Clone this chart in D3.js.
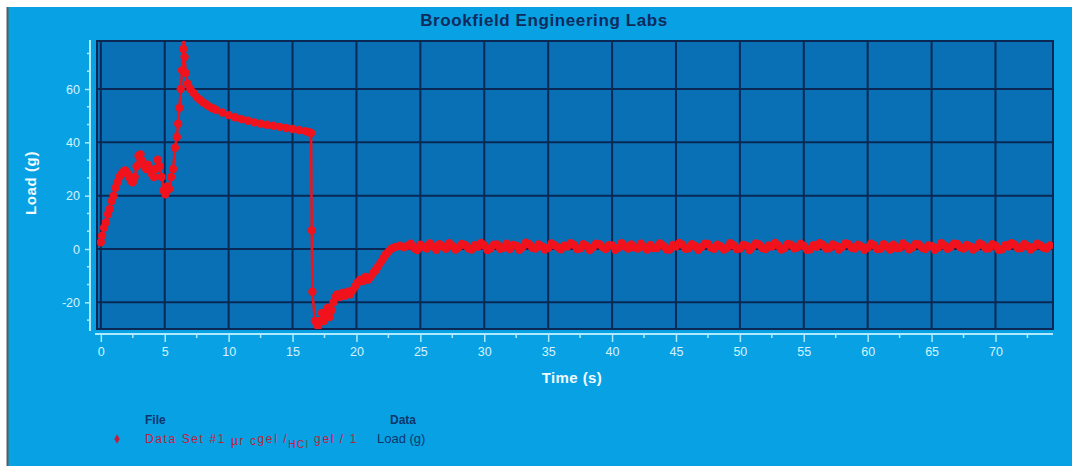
<!DOCTYPE html>
<html>
<head>
<meta charset="utf-8">
<script src="https://cdn.jsdelivr.net/npm/d3@7"></script>
<style>
  html, body { margin: 0; padding: 0; background: #ffffff; }
  svg { display: block; }
</style>
</head>
<body>
<svg id="chart" width="1072" height="466"></svg>
<script>
// ---- Data: load (g) against time (s) ----
// Transient part: loading, peak, relaxation, release and recovery.
const transientTimeS = [
  0.0, 0.1, 0.25, 0.4, 0.55, 0.7, 0.85, 1.0, 1.15, 1.3,
  1.45, 1.6, 1.75, 1.9, 2.05, 2.2, 2.35, 2.5, 2.65, 2.8,
  2.95, 3.1, 3.25, 3.4, 3.55, 3.7, 3.85, 4.0, 4.15, 4.3,
  4.45, 4.6, 4.75, 4.9, 5.05, 5.2, 5.35, 5.5, 5.65, 5.8,
  5.95, 6.05, 6.15, 6.25, 6.35, 6.45, 6.5, 6.55, 6.65, 6.8,
  7.0, 7.25, 7.5, 7.75, 8.0, 8.25, 8.5, 8.75, 9.0, 9.5,
  10.0, 10.5, 11.0, 11.5, 12.0, 12.5, 13.0, 13.5, 14.0, 14.5,
  15.0, 15.5, 16.0, 16.3, 16.45, 16.5, 16.55, 16.75, 17.0, 17.15,
  17.3, 17.45, 17.6, 17.75, 17.9, 18.05, 18.2, 18.35, 18.5, 18.7,
  18.9, 19.1, 19.3, 19.5, 19.7, 19.9, 20.1, 20.3, 20.5, 20.7,
  20.9, 21.1, 21.3, 21.5, 21.7, 21.9, 22.1, 22.3, 22.5, 22.7,
  22.9, 23.1, 23.4, 23.7
];
const transientLoadG = [
  2.5, 5, 8, 10, 13, 15, 18, 20, 23, 25,
  27, 28, 29, 29.5, 28.5, 27, 25.5, 25, 27, 31,
  35, 35.5, 33, 31, 30, 31.5, 30, 28, 27, 30,
  33.5, 31, 27, 22, 20.5, 23.5, 22.5, 27, 30, 38,
  42, 47, 53, 60, 67, 75, 82, 72, 66, 62,
  60, 58.5, 57, 56, 55, 54.2, 53.4, 52.8, 52.2, 51.2,
  50.2, 49.4, 48.7, 48.1, 47.5, 47.0, 46.6, 46.2, 45.8, 45.4,
  45.0, 44.6, 44.2, 43.8, 43.5, 7, -16, -27, -29, -27,
  -24, -27, -25, -22, -25.5, -23, -20, -18, -17, -18,
  -16.5, -17.5, -16, -17, -15.5, -14, -12.5, -11.5, -12, -10.5,
  -11.5, -10.5, -9, -8, -6.5, -5, -3.5, -2, -1, 0,
  0.5, 0.8, 1.2, 0.6
];

// Settled part: load fluctuating around zero.
const settledTimeS = [
  24.0, 24.25, 24.5, 24.75, 25.0, 25.25, 25.5, 25.75, 26.0, 26.25, 26.5, 26.75,
  27.0, 27.25, 27.5, 27.75, 28.0, 28.25, 28.5, 28.75, 29.0, 29.25, 29.5, 29.75,
  30.0, 30.25, 30.5, 30.75, 31.0, 31.25, 31.5, 31.75, 32.0, 32.25, 32.5, 32.75,
  33.0, 33.25, 33.5, 33.75, 34.0, 34.25, 34.5, 34.75, 35.0, 35.25, 35.5, 35.75,
  36.0, 36.25, 36.5, 36.75, 37.0, 37.25, 37.5, 37.75, 38.0, 38.25, 38.5, 38.75,
  39.0, 39.25, 39.5, 39.75, 40.0, 40.25, 40.5, 40.75, 41.0, 41.25, 41.5, 41.75,
  42.0, 42.25, 42.5, 42.75, 43.0, 43.25, 43.5, 43.75, 44.0, 44.25, 44.5, 44.75,
  45.0, 45.25, 45.5, 45.75, 46.0, 46.25, 46.5, 46.75, 47.0, 47.25, 47.5, 47.75,
  48.0, 48.25, 48.5, 48.75, 49.0, 49.25, 49.5, 49.75, 50.0, 50.25, 50.5, 50.75,
  51.0, 51.25, 51.5, 51.75, 52.0, 52.25, 52.5, 52.75, 53.0, 53.25, 53.5, 53.75,
  54.0, 54.25, 54.5, 54.75, 55.0, 55.25, 55.5, 55.75, 56.0, 56.25, 56.5, 56.75,
  57.0, 57.25, 57.5, 57.75, 58.0, 58.25, 58.5, 58.75, 59.0, 59.25, 59.5, 59.75,
  60.0, 60.25, 60.5, 60.75, 61.0, 61.25, 61.5, 61.75, 62.0, 62.25, 62.5, 62.75,
  63.0, 63.25, 63.5, 63.75, 64.0, 64.25, 64.5, 64.75, 65.0, 65.25, 65.5, 65.75,
  66.0, 66.25, 66.5, 66.75, 67.0, 67.25, 67.5, 67.75, 68.0, 68.25, 68.5, 68.75,
  69.0, 69.25, 69.5, 69.75, 70.0, 70.25, 70.5, 70.75, 71.0, 71.25, 71.5, 71.75,
  72.0, 72.25, 72.5, 72.75, 73.0, 73.25, 73.5, 73.75, 74.0, 74.25
];
const settledLoadG = [
  1.2, 2.0, 0.4, -0.4, 1.6, 0.8, 0.2, 2.1, 0.9, -0.3, 1.8, 1.0,
  0.1, 2.2, 1.1, -0.2, 0.6, 1.9, 1.5, 0.3, -0.2, 1.4, 0.8, 2.3,
  1.3, -0.4, 0.3, 1.6, 1.7, 0.1, 0.5, 2.0, 0.0, 1.5, 1.2, -0.3,
  0.7, 2.4, 1.9, 0.5, 0.2, 1.7, 1.0, -0.2, 0.4, 2.1, 1.4, 0.6,
  -0.1, 1.2, 0.9, 2.2, 1.6, 0.0, 0.3, 1.8, 1.1, -0.4, 0.6, 2.0,
  1.8, 0.7, 0.0, 1.4, 1.3, -0.3, 0.5, 2.2, 1.0, 0.2, 1.7, 0.6,
  0.2, 2.0, 0.8, -0.2, 1.5, 0.4, 0.4, 2.1, 1.2, -0.1, -0.2, 1.5,
  0.9, 2.3, 1.6, 0.1, 0.3, 1.8, 1.1, -0.3, 0.7, 2.0, 1.9, 0.5,
  0.1, 1.6, 1.0, -0.2, 0.5, 2.2, 1.4, 0.0, 0.2, 1.5, 1.2, -0.4,
  0.8, 2.1, 1.7, 0.4, 0.0, 1.3, 0.9, 2.3, 1.3, -0.2, 0.4, 1.9,
  1.6, 0.3, 0.6, 2.0, 1.1, -0.3, -0.1, 1.4, 0.8, 2.2, 1.5, 0.2,
  0.3, 1.7, 1.2, -0.2, 0.7, 2.1, 1.8, 0.5, 0.2, 1.6, 1.0, -0.3,
  0.5, 2.0, 1.4, 0.0, 0.1, 1.8, 0.9, -0.2, 1.6, 0.4, 0.4, 2.1,
  1.2, -0.1, 0.6, 1.9, 1.7, 0.5, 0.0, 1.3, 1.1, -0.3, 0.5, 2.2,
  1.3, 0.1, 0.8, 2.0, 1.9, 0.6, 0.2, 1.5, 1.0, -0.2, 0.6, 2.1,
  1.5, 0.2, 0.3, 1.8, 1.2, -0.3, -0.1, 1.4, 0.9, 2.2, 1.6, 0.3,
  0.4, 1.9, 1.1, -0.2, 0.7, 2.0, 1.4, 0.5, 0.2, 1.3
];

const xTicks = [0, 5, 10, 15, 20, 25, 30, 35, 40, 45, 50, 55, 60, 65, 70];
const xMinorTicks = [2.5, 7.5, 12.5, 17.5, 22.5, 27.5, 32.5, 37.5, 42.5, 47.5, 52.5, 57.5, 62.5, 67.5, 72.5];
const yTicks = [-20, 0, 20, 40, 60];
const yMinorTicks = [-26.67, -13.33, -6.67, 6.67, 13.33, 26.67, 33.33, 46.67, 53.33, 66.67, 73.33];

const titleText = "Brookfield Engineering Labs";
const xTitle = "Time (s)";
const yTitle = "Load (g)";
const legendFileHeader = "File";
const legendDataHeader = "Data";
const legendDataName = "Load (g)";

// ---- Layout ----
const W = 1072, H = 466;
const plot = { left: 97, right: 1053, top: 41, bottom: 329 };

const colors = {
  frame: "#08a2e4",
  plotBg: "#0a70b5",
  grid: "#0a2856",
  axis: "#aeeaff",
  tickText: "#d4f3ff",
  title: "#0e2b5c",
  axisTitle: "#f2fbff",
  series: "#f0121c",
  legendRed: "#c41c3c",
  legendDark: "#10356a"
};

const svg = d3.select("#chart");

// page and outer panel
svg.append("rect").attr("x", 0).attr("y", 0).attr("width", W).attr("height", H).attr("fill", "#ffffff");
svg.append("rect").attr("x", 8).attr("y", 7).attr("width", W - 8).attr("height", H - 7).attr("fill", colors.frame);
svg.append("line").attr("x1", 7.5).attr("x2", 7.5).attr("y1", 7).attr("y2", H)
  .attr("stroke", "#5c5c5c").attr("stroke-width", 2);

const x = d3.scaleLinear().domain([-0.3, 74.5]).range([plot.left, plot.right]);
const y = d3.scaleLinear().domain([-30, 78]).range([plot.bottom, plot.top]);

// plot background
svg.append("rect")
  .attr("x", plot.left).attr("y", plot.top)
  .attr("width", plot.right - plot.left).attr("height", plot.bottom - plot.top)
  .attr("fill", colors.plotBg);

// grid
const grid = svg.append("g").attr("stroke", colors.grid).attr("stroke-width", 2);
grid.selectAll("line.v").data(xTicks).join("line").attr("class", "v")
  .attr("x1", d => x(d)).attr("x2", d => x(d))
  .attr("y1", plot.top).attr("y2", plot.bottom);
grid.selectAll("line.h").data(yTicks).join("line").attr("class", "h")
  .attr("x1", plot.left).attr("x2", plot.right)
  .attr("y1", d => y(d)).attr("y2", d => y(d));

// plot border
svg.append("rect")
  .attr("x", plot.left).attr("y", plot.top)
  .attr("width", plot.right - plot.left).attr("height", plot.bottom - plot.top)
  .attr("fill", "none").attr("stroke", colors.grid).attr("stroke-width", 2);

// series, clipped to the plot area
svg.append("clipPath").attr("id", "plotClip")
  .append("rect")
  .attr("x", plot.left).attr("y", plot.top)
  .attr("width", plot.right - plot.left).attr("height", plot.bottom - plot.top);

const timeS = transientTimeS.concat(settledTimeS);
const loadG = transientLoadG.concat(settledLoadG);
const points = timeS.map((t, i) => ({ t, v: loadG[i] }));

const series = svg.append("g").attr("clip-path", "url(#plotClip)");
series.append("path")
  .datum(points)
  .attr("fill", "none")
  .attr("stroke", colors.series)
  .attr("stroke-width", 2.5)
  .attr("stroke-linejoin", "round")
  .attr("d", d3.line().x(d => x(d.t)).y(d => y(d.v)));
series.selectAll("circle").data(points).join("circle")
  .attr("cx", d => x(d.t)).attr("cy", d => y(d.v)).attr("r", 4.2)
  .attr("fill", colors.series);

// axes
const fontFamily = "'Liberation Sans', Arial, sans-serif";
const plainInt = d => String(d);

const yAxis = svg.append("g").attr("transform", "translate(90,0)")
  .call(d3.axisLeft(y).tickValues(yTicks).tickSize(5).tickSizeOuter(0).tickPadding(5).tickFormat(plainInt));
yAxis.select(".domain").remove();
yAxis.append("line").attr("x1", 0).attr("x2", 0).attr("y1", plot.top - 1).attr("y2", plot.bottom + 2)
  .attr("stroke", colors.axis).attr("stroke-width", 2);
yAxis.selectAll(".minor").data(yMinorTicks).join("line").attr("class", "minor")
  .attr("x1", -3).attr("x2", 0).attr("y1", d => y(d)).attr("y2", d => y(d))
  .attr("stroke", colors.axis).attr("stroke-width", 1.5);

const xAxis = svg.append("g").attr("transform", "translate(0,334)")
  .call(d3.axisBottom(x).tickValues(xTicks).tickSize(8).tickSizeOuter(0).tickPadding(5).tickFormat(plainInt));
xAxis.select(".domain").remove();
xAxis.append("line").attr("x1", plot.left - 2).attr("x2", plot.right).attr("y1", 0).attr("y2", 0)
  .attr("stroke", colors.axis).attr("stroke-width", 2);
xAxis.selectAll(".minor").data(xMinorTicks).join("line").attr("class", "minor")
  .attr("x1", d => x(d)).attr("x2", d => x(d)).attr("y1", 0).attr("y2", 4)
  .attr("stroke", colors.axis).attr("stroke-width", 1.5);

[yAxis, xAxis].forEach(g => {
  g.selectAll(".tick line").attr("stroke", colors.axis).attr("stroke-width", 1.5);
  g.selectAll(".tick text").attr("fill", colors.tickText)
    .attr("font-family", fontFamily).attr("font-size", 12.5);
});

// titles
svg.append("text").attr("x", 544).attr("y", 26).attr("text-anchor", "middle")
  .attr("font-family", fontFamily).attr("font-weight", "bold").attr("font-size", 17)
  .attr("letter-spacing", 0.6)
  .attr("fill", colors.title).text(titleText);

svg.append("text").attr("x", 572).attr("y", 383).attr("text-anchor", "middle")
  .attr("font-family", fontFamily).attr("font-weight", "bold").attr("font-size", 15)
  .attr("letter-spacing", 0.4)
  .attr("fill", colors.axisTitle).text(xTitle);

svg.append("text").attr("transform", "translate(36,183) rotate(-90)").attr("text-anchor", "middle")
  .attr("font-family", fontFamily).attr("font-weight", "bold").attr("font-size", 15)
  .attr("letter-spacing", 0.6)
  .attr("fill", colors.axisTitle).text(yTitle);

// legend
const legend = svg.append("g").attr("font-family", fontFamily);
legend.append("text").attr("x", 145).attr("y", 424).attr("font-size", 12).attr("font-weight", "bold")
  .attr("fill", colors.legendDark).text(legendFileHeader);
legend.append("text").attr("x", 390).attr("y", 424).attr("font-size", 12).attr("font-weight", "bold")
  .attr("fill", colors.legendDark).text(legendDataHeader);
legend.append("path").attr("transform", "translate(117,439)")
  .attr("d", d3.symbol(d3.symbolDiamond, 26)())
  .attr("fill", colors.legendRed);

const nameText = legend.append("text").attr("x", 145).attr("y", 443)
  .attr("font-size", 12).attr("fill", colors.legendRed).attr("letter-spacing", 1.6);
nameText.append("tspan").text("Data Set #1 ");
nameText.append("tspan").attr("dy", 2).text("µr c");
nameText.append("tspan").attr("dy", -2).text("gel /");
nameText.append("tspan").attr("dy", 5).attr("font-size", 10).text("HCl ");
nameText.append("tspan").attr("dy", -5).text("gel / 1");

legend.append("text").attr("x", 377).attr("y", 443).attr("font-size", 13)
  .attr("fill", colors.legendDark).text(legendDataName);
</script>
</body>
</html>
